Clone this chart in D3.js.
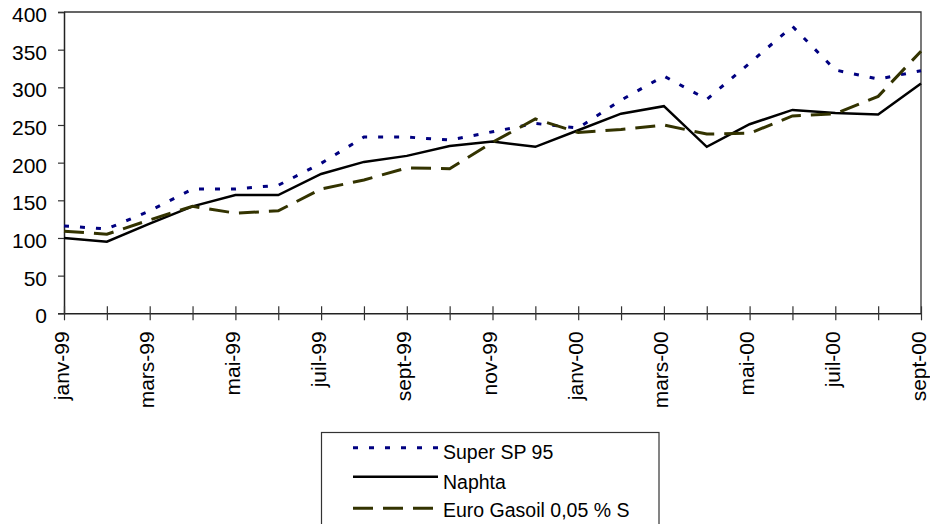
<!DOCTYPE html>
<html>
<head>
<meta charset="utf-8">
<script src="https://cdn.jsdelivr.net/npm/d3@7"></script>
<style>
  html, body { margin: 0; padding: 0; background: #fff; }
  svg { display: block; font-family: "Liberation Sans", Arial, sans-serif; }
</style>
</head>
<body>
<svg id="chart" width="930" height="524"></svg>
<script>
const months = ["janv-99","févr-99","mars-99","avr-99","mai-99","juin-99","juil-99","août-99","sept-99","oct-99","nov-99","déc-99",
                "janv-00","févr-00","mars-00","avr-00","mai-00","juin-00","juil-00","août-00","sept-00"];
const superSP95 = [116, 112, 136, 165, 165, 170, 199, 234, 234, 230, 241, 252, 246, 283, 315, 284, 332, 381, 323, 311, 322];
const naphta    = [100, 95, 119, 142, 157, 157, 185, 201, 209, 222, 228, 221, 243, 265, 275, 221, 251, 270, 266, 264, 305];
const gasoil    = [109, 105, 124, 142, 133, 136, 165, 177, 193, 192, 227, 258, 240, 244, 250, 238, 239, 262, 265, 288, 348];
const yTicks = [0, 50, 100, 150, 200, 250, 300, 350, 400];
const seriesNames = ["Super SP 95", "Naphta", "Euro Gasoil 0,05 % S"];

const series = [
  { name: seriesNames[0], values: superSP95, color: "#000080", dash: "5,11", width: 3 },
  { name: seriesNames[1], values: naphta,    color: "#000000", dash: null,   width: 2.5 },
  { name: seriesNames[2], values: gasoil,    color: "#333300", dash: "20,10", width: 3 }
];

const svg = d3.select("#chart");
const pL = 64, pR = 921, pT = 12, pB = 313.3;

const x = d3.scalePoint().domain(months).range([pL, pR]);
const y = d3.scaleLinear().domain([0, 400]).range([pB, pT]);

// frame (top and right)
svg.append("path")
  .attr("d", `M${pL},${pT}H${pR}V${pB}`)
  .attr("fill", "none").attr("stroke", "#333").attr("stroke-width", 1.3);

// y axis
const yAxis = svg.append("g").attr("transform", `translate(${pL},0)`)
  .call(d3.axisLeft(y).tickValues(yTicks).tickSize(6).tickPadding(11).tickFormat(d3.format("d")));
yAxis.select(".domain").attr("stroke", "#222").attr("stroke-width", 1.5);
yAxis.selectAll(".tick line").attr("stroke", "#333").attr("stroke-width", 1.2);
yAxis.selectAll(".tick text").attr("font-size", "21px").attr("fill", "#000")
  .attr("font-family", "Liberation Sans, Arial, sans-serif").attr("dy", "0.45em");

// x axis
const xAxis = svg.append("g").attr("transform", `translate(0,${pB})`)
  .call(d3.axisBottom(x).tickSize(7).tickSizeOuter(0).tickFormat((d, i) => i % 2 === 0 ? d : ""));
xAxis.select(".domain").attr("stroke", "#222").attr("stroke-width", 1.5);
xAxis.selectAll(".tick line").attr("stroke", "#333").attr("stroke-width", 1.2).attr("y1", -7);
xAxis.selectAll(".tick text")
  .attr("font-size", "21px").attr("fill", "#000")
  .attr("font-family", "Liberation Sans, Arial, sans-serif")
  .attr("text-anchor", "end")
  .attr("transform", "rotate(-90)")
  .attr("x", -18).attr("y", 4).attr("dy", "0");

// lines
const line = d3.line().x((d, i) => x(months[i])).y(d => y(d));
series.forEach(s => {
  svg.append("path")
    .datum(s.values)
    .attr("d", line)
    .attr("fill", "none")
    .attr("stroke", s.color)
    .attr("stroke-width", s.width)
    .attr("stroke-dasharray", s.dash)
    .attr("stroke-linejoin", "miter");
});

// legend
const lg = svg.append("g");
lg.append("rect").attr("x", 321.5).attr("y", 432.5).attr("width", 337.5).attr("height", 100)
  .attr("fill", "#fff").attr("stroke", "#333").attr("stroke-width", 1.2);
const rowLine = [447.7, 476.7, 508.3];
const rowText = [459, 489, 517];
series.forEach((s, i) => {
  lg.append("line").attr("x1", 353).attr("x2", 438).attr("y1", rowLine[i]).attr("y2", rowLine[i])
    .attr("stroke", s.color).attr("stroke-width", s.width).attr("stroke-dasharray", s.dash);
  lg.append("text").attr("x", 443).attr("y", rowText[i]).attr("font-size", "19.5px")
    .attr("fill", "#000").text(s.name);
});
</script>
</body>
</html>
